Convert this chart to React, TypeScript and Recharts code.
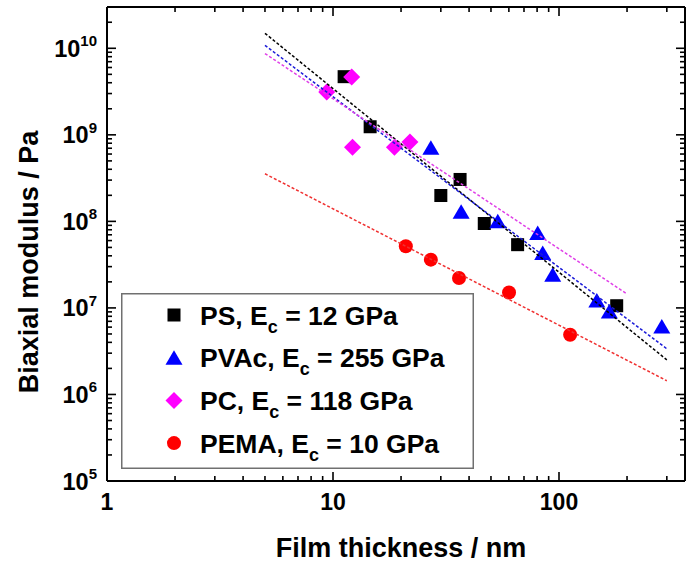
import React from 'react';
import { ScatterChart, Scatter, XAxis, YAxis, Legend } from 'recharts';

// ---- data (thickness in nm, modulus in Pa) ----
const psX = [11.2, 14.6, 30.0, 36.5, 46.7, 65.6, 180];
const psY = [4.7e9, 1.24e9, 1.99e8, 3.05e8, 9.45e7, 5.38e7, 1.06e7];

const pvacX = [27.1, 36.9, 53.6, 80.5, 84.7, 93.8, 147, 167, 285];
const pvacY = [7.1e8, 1.29e8, 1.0e8, 7.36e7, 4.32e7, 2.42e7, 1.22e7, 9.12e6, 6.1e6];

const pcX = [9.38, 12.1, 12.2, 18.7, 21.9];
const pcY = [3.12e9, 4.66e9, 7.2e8, 7.2e8, 8.24e8];

const pemaX = [21.0, 27.1, 36.1, 60.1, 112];
const pemaY = [5.15e7, 3.61e7, 2.22e7, 1.51e7, 4.9e6];

// dashed power-law fits (end points)
const psFitX = [5, 300];
const psFitY = [1.49e10, 2.51e6];
const pvacFitX = [5, 300];
const pvacFitY = [1.08e10, 3.37e6];
const pcFitX = [5, 200];
const pcFitY = [8.7e9, 1.45e7];
const pemaFitX = [5, 300];
const pemaFitY = [3.55e8, 1.44e6];

const legendLabels = [
  { name: 'PS', ec: '12' },
  { name: 'PVAc', ec: '255' },
  { name: 'PC', ec: '118' },
  { name: 'PEMA', ec: '10' },
];

const xDomain = [1, 361];
const yDomain = [1e5, 3e10];
const xDecades = [1, 10, 100];
const yDecades = [1e5, 1e6, 1e7, 1e8, 1e9, 1e10];
const minorMult = [1, 2, 3, 4, 5, 6, 7, 8, 9];

const FONT = '"Liberation Sans", Arial, Helvetica, sans-serif';

const zip = (xs: number[], ys: number[]) => xs.map((x, i) => ({ x, y: ys[i] }));

const psData = zip(psX, psY);
const pvacData = zip(pvacX, pvacY);
const pcData = zip(pcX, pcY);
const pemaData = zip(pemaX, pemaY);
const psFit = zip(psFitX, psFitY);
const pvacFit = zip(pvacFitX, pvacFitY);
const pcFit = zip(pcFitX, pcFitY);
const pemaFit = zip(pemaFitX, pemaFitY);

const xTicks: number[] = [];
xDecades.forEach((d) => minorMult.forEach((m) => { const v = m * d; if (v <= xDomain[1]) xTicks.push(v); }));
const yTicks: number[] = [];
yDecades.forEach((d) => minorMult.forEach((m) => { const v = m * d; if (v <= yDomain[1] * 1.0001) yTicks.push(v); }));

const isMajor = (v: number) => Math.abs(Math.log10(v) - Math.round(Math.log10(v))) < 1e-6;
const MAJ = 9;
const MIN = 5;

const BottomTick = (p: any) => {
  const { x, y, payload } = p;
  const v = payload.value;
  const major = isMajor(v);
  return (
    <g>
      <line x1={x} x2={x} y1={y} y2={y - (major ? MAJ : MIN)} stroke="#000" strokeWidth={1.6} />
      {major && (
        <text x={x} y={y + 29} textAnchor="middle" fontSize={23} fontWeight="bold" fontFamily={FONT} fill="#000">
          {String(Math.round(v))}
        </text>
      )}
    </g>
  );
};

const TopTick = (p: any) => {
  const { x, y, payload } = p;
  const major = isMajor(payload.value);
  return <line x1={x} x2={x} y1={y} y2={y + (major ? MAJ : MIN)} stroke="#000" strokeWidth={1.6} />;
};

const LeftTick = (p: any) => {
  const { x, y, payload } = p;
  const v = payload.value;
  const major = isMajor(v);
  const exp = Math.round(Math.log10(v));
  return (
    <g>
      <line x1={x} x2={x + (major ? MAJ : MIN)} y1={y} y2={y} stroke="#000" strokeWidth={1.6} />
      {major && (
        <text x={x - 10} y={y + 8.5} textAnchor="end" fontSize={23.5} fontWeight="bold" fontFamily={FONT} fill="#000">
          10
          <tspan dy={-10.5} fontSize={15}>{String(exp)}</tspan>
        </text>
      )}
    </g>
  );
};

const RightTick = (p: any) => {
  const { x, y, payload } = p;
  const major = isMajor(payload.value);
  return <line x1={x} x2={x - (major ? MAJ : MIN)} y1={y} y2={y} stroke="#000" strokeWidth={1.6} />;
};

const Square = (p: any) => <rect x={p.cx - 6.5} y={p.cy - 6.5} width={13} height={13} fill="#000" />;
const Triangle = (p: any) => (
  <polygon
    points={`${p.cx},${p.cy - 7.5} ${p.cx - 8.5},${p.cy + 7} ${p.cx + 8.5},${p.cy + 7}`}
    fill="#0000ff"
  />
);
const Diamond = (p: any) => (
  <polygon
    points={`${p.cx},${p.cy - 8.5} ${p.cx + 8.5},${p.cy} ${p.cx},${p.cy + 8.5} ${p.cx - 8.5},${p.cy}`}
    fill="#ff00ff"
  />
);
const Dot = (p: any) => <circle cx={p.cx} cy={p.cy} r={7} fill="#ff0000" />;
const Nothing = () => <g />;

const markerFor = (i: number, cx: number, cy: number) => {
  if (i === 0) return <Square cx={cx} cy={cy} />;
  if (i === 1) return <Triangle cx={cx} cy={cy} />;
  if (i === 2) return <Diamond cx={cx} cy={cy} />;
  return <Dot cx={cx} cy={cy} />;
};

const LegendBox = () => (
  <svg width={353} height={176} style={{ display: 'block' }}>
    <rect x={0.75} y={0.75} width={351.5} height={174.5} fill="#fff" stroke="#707070" strokeWidth={1.5} />
    {legendLabels.map((l, i) => {
      const cy = 22 + i * 42.7;
      return (
        <g key={l.name}>
          {markerFor(i, 53, cy)}
          <text x={79} y={cy + 9.5} fontSize={26.5} fontWeight="bold" fontFamily={FONT} fill="#000">
            {l.name + ', E'}
            <tspan dy={8} fontSize={18}>c</tspan>
            <tspan dy={-8}>{' = ' + l.ec + ' GPa'}</tspan>
          </text>
        </g>
      );
    })}
  </svg>
);

const XTitle = (p: any) => {
  const vb = p.viewBox;
  return (
    <text x={vb.x + vb.width / 2 + 5} y={vb.y + 76} textAnchor="middle" fontSize={27} fontWeight="bold" fontFamily={FONT} fill="#000">
      Film thickness / nm
    </text>
  );
};

const YTitle = () => (
  <text x={38} y={262} transform="rotate(-90, 38, 262)" textAnchor="middle" fontSize={27} fontWeight="bold" fontFamily={FONT} fill="#000">
    Biaxial modulus / Pa
  </text>
);

const axisLine = { stroke: '#000', strokeWidth: 2 };

export default function App() {
  return (
    <div style={{ position: 'absolute', left: 0, top: 0, width: 686, height: 567, background: '#fff' }}>
      <ScatterChart width={686} height={567} margin={{ top: 6, right: 0, bottom: 0, left: 0 }}>
        <XAxis
          xAxisId="b"
          type="number"
          dataKey="x"
          scale="log"
          domain={xDomain}
          allowDataOverflow
          ticks={xTicks}
          interval={0}
          orientation="bottom"
          height={86}
          tickSize={0}
          tickMargin={0}
          tickLine={false}
          axisLine={axisLine}
          tick={<BottomTick />}
          label={{ content: <XTitle /> } as any}
        />
        <XAxis
          xAxisId="t"
          type="number"
          dataKey="x"
          scale="log"
          domain={xDomain}
          allowDataOverflow
          ticks={xTicks}
          interval={0}
          orientation="top"
          height={1}
          tickSize={0}
          tickMargin={0}
          tickLine={false}
          axisLine={axisLine}
          tick={<TopTick />}
        />
        <YAxis
          yAxisId="l"
          type="number"
          dataKey="y"
          scale="log"
          domain={yDomain}
          allowDataOverflow
          ticks={yTicks}
          interval={0}
          orientation="left"
          width={107}
          tickSize={0}
          tickMargin={0}
          tickLine={false}
          axisLine={axisLine}
          tick={<LeftTick />}
          label={{ content: <YTitle /> } as any}
        />
        <YAxis
          yAxisId="r"
          type="number"
          dataKey="y"
          scale="log"
          domain={yDomain}
          allowDataOverflow
          ticks={yTicks}
          interval={0}
          orientation="right"
          width={1}
          tickSize={0}
          tickMargin={0}
          tickLine={false}
          axisLine={axisLine}
          tick={<RightTick />}
        />
        <Scatter name="PS" data={psData} xAxisId="b" yAxisId="l" shape={<Square />} isAnimationActive={false} />
        <Scatter name="PVAc" data={pvacData} xAxisId="b" yAxisId="l" shape={<Triangle />} isAnimationActive={false} />
        <Scatter name="PC" data={pcData} xAxisId="b" yAxisId="l" shape={<Diamond />} isAnimationActive={false} />
        <Scatter name="PEMA" data={pemaData} xAxisId="b" yAxisId="l" shape={<Dot />} isAnimationActive={false} />
        <Scatter name="PS fit" legendType="none" data={psFit} xAxisId="b" yAxisId="l" shape={<Nothing />}
          line={{ stroke: '#000', strokeWidth: 1.5, strokeDasharray: '3 2' }} isAnimationActive={false} />
        <Scatter name="PVAc fit" legendType="none" data={pvacFit} xAxisId="b" yAxisId="l" shape={<Nothing />}
          line={{ stroke: '#1a1ad8', strokeWidth: 1.5, strokeDasharray: '3 2' }} isAnimationActive={false} />
        <Scatter name="PC fit" legendType="none" data={pcFit} xAxisId="b" yAxisId="l" shape={<Nothing />}
          line={{ stroke: '#e040e8', strokeWidth: 1.5, strokeDasharray: '3 2' }} isAnimationActive={false} />
        <Scatter name="PEMA fit" legendType="none" data={pemaFit} xAxisId="b" yAxisId="l" shape={<Nothing />}
          line={{ stroke: '#f03030', strokeWidth: 1.5, strokeDasharray: '3 2' }} isAnimationActive={false} />
        <Legend
          layout="horizontal"
          verticalAlign="middle"
          align="center"
          content={<LegendBox />}
          wrapperStyle={{ position: 'absolute', left: 121, top: 293, width: 353, height: 176, margin: 0, padding: 0 }}
        />
      </ScatterChart>
    </div>
  );
}
